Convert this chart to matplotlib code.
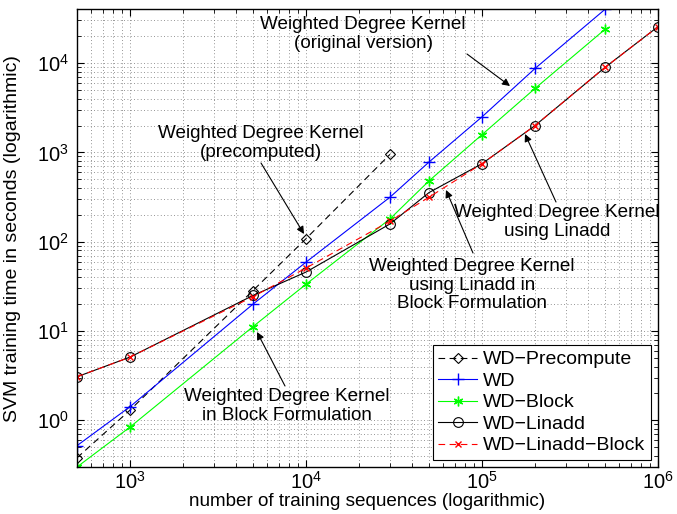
import numpy as np
import matplotlib.pyplot as plt
from matplotlib.ticker import LogLocator, NullFormatter

plt.rcParams['font.family'] = ['Liberation Sans', 'DejaVu Sans']
plt.rcParams['mathtext.fontset'] = 'custom'
plt.rcParams['mathtext.rm'] = 'Liberation Sans'

# training set sizes
n_pre = [500, 1000, 5000, 10000, 30000]
n_wd = [500, 1000, 5000, 10000, 30000, 50000, 100000, 200000, 500000]
n_lin = [500, 1000, 5000, 10000, 30000, 50000, 100000, 200000, 500000, 1000000]

# training times in seconds
t_precompute = [0.38, 1.3, 28.4, 108, 950]
t_wd = [0.52, 1.42, 20, 59, 315, 780, 2500, 8700, 40000]
t_block = [0.3, 0.84, 11.2, 33.4, 180, 480, 1580, 5200, 23900]
t_linadd = [3.07, 5.1, 25, 45.7, 158, 355, 747, 1995, 8950, 25600]
t_linadd_block = [3.07, 5.1, 24.2, 50.7, 170, 315, 747, 1995, 8950, 25600]

fig = plt.figure(figsize=(6.77, 5.14), dpi=100)
ax = fig.add_axes([0.1137, 0.0914, 0.8583, 0.8905])

lw = 0.8
asterisk = (6, 2, 0)
ax.plot(n_pre, t_precompute, 'k--', marker='D', mfc='none', ms=5, mew=0.8,
        lw=lw, dashes=(6, 4), label='WD\u2212Precompute')
ax.plot(n_wd, t_wd, '-', color='#0000ff', marker='+', ms=8, mew=1, lw=lw,
        label='WD')
ax.plot(n_wd, t_block, '-', color='#00ff00', marker=asterisk, ms=7, mew=1, lw=lw,
        label='WD\u2212Block')
ax.plot(n_lin, t_linadd, 'k-', marker='o', mfc='none', ms=7, mew=0.8, lw=lw,
        label='WD\u2212Linadd')
ax.plot(n_lin, t_linadd_block, '--', color='#ff0000', marker='x', ms=5,
        mew=1, lw=lw, dashes=(6, 4), label='WD\u2212Linadd\u2212Block')

ax.set_xscale('log')
ax.set_yscale('log')
ax.set_xlim(500, 1e6)
ax.set_ylim(0.3, 4e4)

ax.xaxis.set_minor_locator(LogLocator(base=10, subs=np.arange(2, 10)))
ax.yaxis.set_minor_locator(LogLocator(base=10, subs=np.arange(2, 10)))
ax.xaxis.set_minor_formatter(NullFormatter())
ax.yaxis.set_minor_formatter(NullFormatter())

ax.grid(True, which='both', color='0.45', linestyle=(0, (1, 3)), linewidth=0.6)
ax.tick_params(which='both', direction='in', top=True, right=True, labelsize=14.5)
ax.tick_params(which='major', length=5, pad=6)
ax.tick_params(axis='x', which='major', pad=3)
ax.tick_params(which='minor', length=3)
for s in ax.spines.values():
    s.set_linewidth(1.0)

ax.set_xlabel('number of training sequences (logarithmic)', fontsize=13.6)
ax.set_ylabel('SVM training time in seconds (logarithmic)', fontsize=14)
ax.xaxis.set_label_coords(0.5, -0.057)
ax.yaxis.set_label_coords(-0.097, 0.5)

W, H = 677, 514
fs = 13.6


def fig_xy(p):
    # pixel position (origin top-left) -> figure fraction
    return (p[0] / W, 1 - p[1] / H)


def note(text, tip, start, center):
    ax.annotate('', xy=fig_xy(tip), xycoords='figure fraction',
                xytext=fig_xy(start), textcoords='figure fraction',
                arrowprops=dict(arrowstyle='-|>', color='k', lw=0.8,
                                mutation_scale=11, shrinkA=0, shrinkB=0))
    cx, cy = fig_xy(center)
    fig.text(cx, cy, text, fontsize=fs, ha='center', va='center', linespacing=1.15)


note('Weighted Degree Kernel\n(original version)', (510, 86), (467, 54), (363, 34))
note('Weighted Degree Kernel\n(precomputed)', (304, 234), (261, 163), (261, 143))
note('Weighted Degree Kernel\nusing Linadd', (525, 134), (556, 202), (557, 222))
note('Weighted Degree Kernel\nusing Linadd in\nBlock Formulation', (446, 190), (473, 253),
     (472, 285))
note('Weighted Degree Kernel\nin Block Formulation', (257, 332), (285, 386), (287, 406))

leg = ax.legend(loc='lower right', fontsize=14, frameon=True, fancybox=False,
                edgecolor='k', framealpha=1, borderaxespad=0.35, handlelength=2.0,
                labelspacing=0.2, borderpad=0.3, handletextpad=0.3)
leg.get_frame().set_linewidth(0.8)

fig.savefig('out.png', dpi=100)
